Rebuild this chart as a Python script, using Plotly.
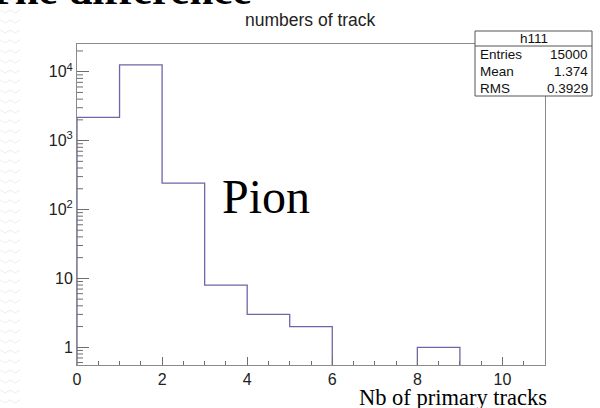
import numpy as np
import plotly.graph_objects as go

# Histogram h111: number of primary tracks per event (unit-width bins 0..11)
bin_edges = list(range(0, 12))
counts = [2172, 12572, 242, 8, 3, 2, 0, 0, 1, 0, 0]

y_tickvals = [1, 10, 100, 1000, 10000]
y_ticktext = ["1", "10", "10<sup>2</sup>", "10<sup>3</sup>", "10<sup>4</sup>"]
x_tickvals = [0, 2, 4, 6, 8, 10]

stats_title = "h111"
stats_labels = ["Entries", "Mean", "RMS"]
stats_values = ["15000", "1.374", "0.3929"]

W, H = 600, 408
L, R, T, B = 77, 545, 44, 365   # plot frame in pixels
y_lo, y_hi = 0.553, 10 ** 4.402


def px(x):
    return (x - L) / (R - L)


def py(y):
    return (B - y) / (B - T)


# empty bins are sent below the visible range so the outline drops to the axis
floor = 0.2
step_x = [bin_edges[0]] + bin_edges
step_y = [floor] + [c if c > 0 else floor for c in counts] + [floor]

# minor log ticks at 2..9 of each decade, inside the visible range
y_minor = [m * 10 ** d for d in range(-1, 5) for m in range(2, 10)
           if y_lo < m * 10 ** d < y_hi]

line_col = "#6d66a8"
frame_col = "#8a8a8a"
tick_col = "#6e6e6e"

fig = go.Figure()
fig.add_trace(go.Scatter(
    x=step_x, y=step_y, mode="lines", line_shape="hv",
    line=dict(color=line_col, width=1.3), hoverinfo="skip", showlegend=False,
))

axis_font = dict(family="Liberation Sans, Arial, sans-serif", size=16, color="#222")

fig.update_xaxes(
    range=[0, 11], showgrid=False, zeroline=False,
    showline=True, linecolor=frame_col, linewidth=1, mirror=True,
    tickmode="array", tickvals=x_tickvals, ticks="inside", ticklen=8,
    tickcolor=tick_col, tickwidth=1, tickfont=axis_font,
    minor=dict(ticks="inside", ticklen=4, dtick=0.5, tick0=0, tickcolor=tick_col, showgrid=False),
)
fig.update_yaxes(
    type="log", range=[np.log10(y_lo), np.log10(y_hi)], showgrid=False, zeroline=False,
    showline=True, linecolor=frame_col, linewidth=1, mirror=True,
    tickmode="array", tickvals=y_tickvals, ticktext=y_ticktext,
    ticks="inside", ticklen=12, tickcolor=tick_col, tickwidth=1, tickfont=axis_font,
)

annotations = []
shapes = []

# short minor tick marks on the log axis
for v in y_minor:
    shapes.append(dict(type="line", xref="paper", yref="y", x0=0, x1=px(L + 6),
                       y0=v, y1=v, line=dict(color=tick_col, width=1)))

# slide heading, mostly above the page edge
annotations.append(dict(
    text="<b>The difference</b>", x=px(254), y=py(-10), xref="paper", yref="paper",
    xanchor="right", yanchor="middle", showarrow=False,
    font=dict(family="Liberation Serif, DejaVu Serif, serif", size=43, color="#000"),
))
# histogram title
annotations.append(dict(
    text="numbers of track", x=px(310), y=py(20), xref="paper", yref="paper",
    xanchor="center", yanchor="middle", showarrow=False,
    font=dict(family="Liberation Sans, Arial, sans-serif", size=17.5, color="#222"),
))
# particle label
annotations.append(dict(
    text="Pion", x=px(220), y=py(196), xref="paper", yref="paper",
    xanchor="left", yanchor="middle", showarrow=False,
    font=dict(family="Liberation Serif, DejaVu Serif, serif", size=48, color="#000"),
))
# x-axis caption
annotations.append(dict(
    text="Nb of primary tracks", x=px(453), y=py(397), xref="paper", yref="paper",
    xanchor="center", yanchor="middle", showarrow=False,
    font=dict(family="Liberation Serif, DejaVu Serif, serif", size=22.5, color="#000"),
))

# statistics box
bx0, bx1, by0, by1, bdiv = 475, 592, 31, 96, 46
shapes.append(dict(type="rect", xref="paper", yref="paper",
                   x0=px(bx0), x1=px(bx1), y0=py(by1), y1=py(by0),
                   line=dict(color="#555", width=1), fillcolor="white", layer="above"))
shapes.append(dict(type="line", xref="paper", yref="paper",
                   x0=px(bx0), x1=px(bx1), y0=py(bdiv), y1=py(bdiv),
                   line=dict(color="#555", width=1), layer="above"))
stat_font = dict(family="Liberation Sans, Arial, sans-serif", size=13.5, color="#111")
annotations.append(dict(text=stats_title, x=px((bx0 + bx1) / 2), y=py(38.5),
                        xref="paper", yref="paper", xanchor="center", yanchor="middle",
                        showarrow=False, font=stat_font))
for i, (lab, val) in enumerate(zip(stats_labels, stats_values)):
    yc = 54 + i * 17
    annotations.append(dict(text=lab, x=px(478), y=py(yc), xref="paper", yref="paper",
                            xanchor="left", yanchor="middle", showarrow=False, font=stat_font))
    annotations.append(dict(text=val, x=px(590), y=py(yc), xref="paper", yref="paper",
                            xanchor="right", yanchor="middle", showarrow=False, font=stat_font))

# faint zigzag texture of the slide background along the left edge
zz = []
for row in range(0, H + 10, 10):
    pts = []
    for k in range(0, 5):
        xx = k * 5
        yy = row + (3 if k % 2 else 0)
        pts.append(f"{px(xx)},{py(yy)}")
    zz.append("M " + " L ".join(pts))
shapes.append(dict(type="path", xref="paper", yref="paper", path=" ".join(zz),
                   line=dict(color="#eeeeee", width=1), layer="below"))

fig.update_layout(
    width=W, height=H,
    margin=dict(l=L, r=W - R, t=T, b=H - B, pad=0),
    paper_bgcolor="white", plot_bgcolor="white",
    annotations=annotations, shapes=shapes, showlegend=False,
)

fig.write_html("out.html")
